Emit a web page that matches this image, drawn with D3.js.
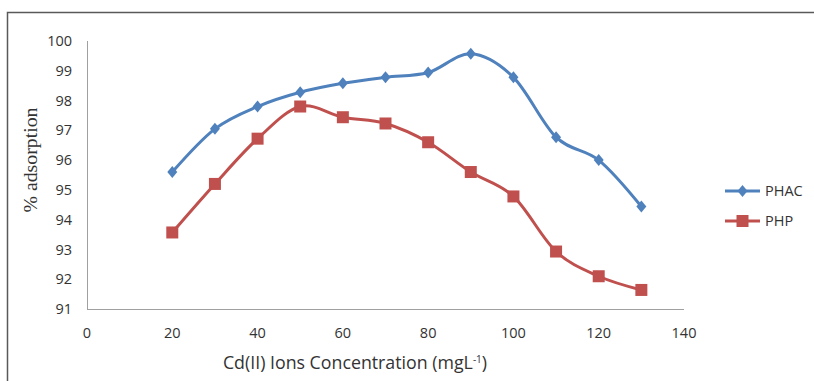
<!DOCTYPE html>
<html><head><meta charset="utf-8">
<script src="https://cdn.jsdelivr.net/npm/d3@7"></script>
<style>body{margin:0;background:#fff}svg{display:block}</style>
</head><body><svg id="c" width="814" height="381"></svg>
<script>
const concentrations = [20,30,40,50,60,70,80,90,100,110,120,130];
const phac = [95.6,97.05,97.8,98.28,98.58,98.78,98.94,99.57,98.78,96.77,96.0,94.44];
const php  = [93.57,95.2,96.72,97.8,97.44,97.23,96.6,95.6,94.78,92.93,92.1,91.64];
const xTicks = [0,20,40,60,80,100,120,140];
const yTicks = [91,92,93,94,95,96,97,98,99,100];
const seriesNames = ["PHAC","PHP"];
const colors = ["#4f81bd","#c0504d"];

const svg = d3.select("#c");
svg.append("path").attr("d","M7.5,381 V12.5 H814").attr("fill","none").attr("stroke","#595959").attr("stroke-width",1.5);

const x = d3.scaleLinear().domain([0,140]).range([87,684]);
const y = d3.scaleLinear().domain([91,100]).range([309,41]);

const font = "'Open Sans', 'Liberation Sans', sans-serif";
svg.append("line").attr("x1",87.5).attr("x2",87.5).attr("y1",41).attr("y2",309.5).attr("stroke","#a0a0a0").attr("stroke-width",1);
svg.append("line").attr("x1",87).attr("x2",684).attr("y1",309.5).attr("y2",309.5).attr("stroke","#a0a0a0").attr("stroke-width",1);

svg.selectAll(".yt").data(yTicks).join("text")
  .attr("x",72).attr("y",d=>y(d)).attr("dy","0.35em").attr("text-anchor","end")
  .attr("font-family",font).attr("font-size",14.5).attr("fill","#333").text(d=>d);
svg.selectAll(".xt").data(xTicks).join("text")
  .attr("x",d=>x(d)).attr("y",333).attr("dy","0.35em").attr("text-anchor","middle")
  .attr("font-family",font).attr("font-size",14.5).attr("fill","#333").text(d=>d);

const xt = svg.append("text").attr("x",355).attr("y",363).attr("dy","0.35em").attr("text-anchor","middle")
  .attr("font-family",font).attr("font-size",15).attr("fill","#333");
xt.append("tspan").text("Cd(II) Ions Concentration (mgL");
xt.append("tspan").attr("dy",-6).attr("font-size",10).text("-1");
xt.append("tspan").attr("dy",6).text(")");
// fit to reference width
const w = xt.node().getComputedTextLength();
if (w > 0) xt.attr("font-size", 15*266/w);

const yt = svg.append("text").attr("transform","translate(37,160) rotate(-90)").attr("text-anchor","middle")
  .attr("font-family","'Liberation Serif', serif").attr("font-size",17).attr("fill","#333").text("% adsorption");
const wy = yt.node().getComputedTextLength();
if (wy > 0) yt.attr("font-size", 17*105/wy);

const line = d3.line().x(d=>x(d[0])).y(d=>y(d[1])).curve(d3.curveCardinal.tension(0));
[phac,php].forEach((vals,i)=>{
  const pts = concentrations.map((c,j)=>[c,vals[j]]);
  svg.append("path").datum(pts).attr("d",line).attr("fill","none").attr("stroke",colors[i]).attr("stroke-width",3);
  const g = svg.append("g");
  if(i===0){
    g.selectAll("path").data(pts).join("path")
      .attr("d","M0,-6 L5,0 L0,6 L-5,0 Z").attr("transform",d=>`translate(${x(d[0])},${y(d[1])})`).attr("fill",colors[i]);
  } else {
    g.selectAll("rect").data(pts).join("rect")
      .attr("x",d=>x(d[0])-6).attr("y",d=>y(d[1])-6).attr("width",12).attr("height",12).attr("fill",colors[i]);
  }
});

const ly = [191,221];
seriesNames.forEach((n,i)=>{
  svg.append("line").attr("x1",725).attr("x2",760).attr("y1",ly[i]).attr("y2",ly[i]).attr("stroke",colors[i]).attr("stroke-width",3);
  if(i===0) svg.append("path").attr("d","M0,-6 L5,0 L0,6 L-5,0 Z").attr("transform",`translate(742.5,${ly[i]})`).attr("fill",colors[i]);
  else svg.append("rect").attr("x",736.5).attr("y",ly[i]-6).attr("width",12).attr("height",12).attr("fill",colors[i]);
  svg.append("text").attr("x",765).attr("y",ly[i]).attr("dy","0.35em").attr("font-family",font).attr("font-size",14.5).attr("fill","#333").text(n);
});
</script></body></html>
